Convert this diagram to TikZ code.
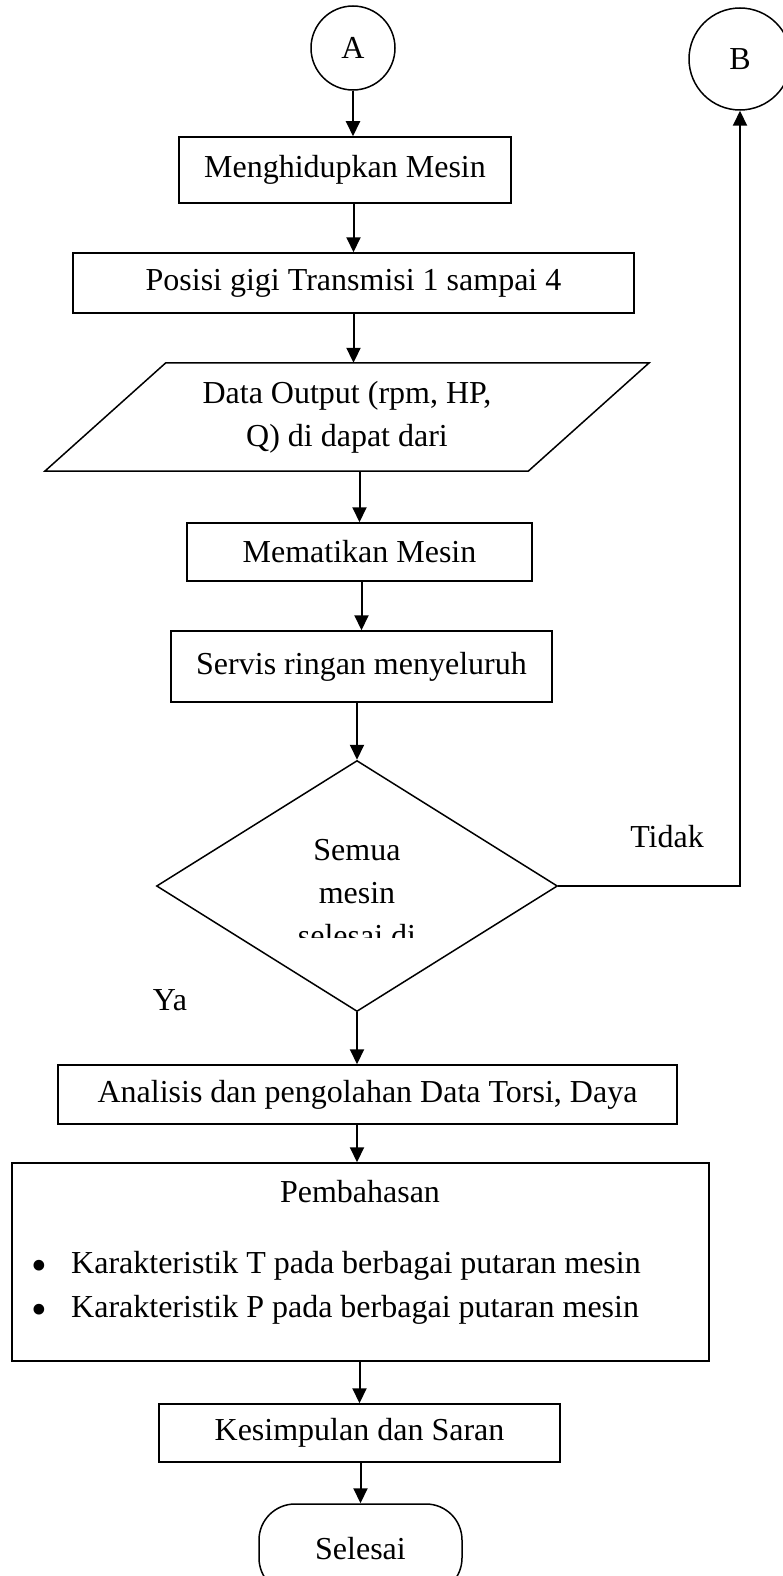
\documentclass[tikz,border=0pt]{standalone}
\usepackage{fontspec}
\setmainfont{Liberation Serif}
\usetikzlibrary{arrows.meta,shapes.geometric}

\begin{document}
\begin{tikzpicture}[x=1pt,y=-1pt,font=\fontsize{32}{43}\selectfont,
    proses/.style={draw,line width=1.5pt,inner sep=0pt},
    konektor/.style={circle,draw,line width=1.5pt,inner sep=0pt},
    keputusan/.style={diamond,draw,line width=1.5pt,inner sep=0pt},
    teks/.style={inner sep=0pt},
    arr/.style={-{Triangle[length=15pt,width=14pt]},line width=2pt}]
\useasboundingbox (0,0) rectangle (783,1576);
\clip (0,0) rectangle (783,1576);
    \node[konektor,minimum size=84pt] (a) at (353,48) {A};
    \node[konektor,minimum size=102pt] (b) at (740,59) {B};
    \node[proses,minimum width=332pt,minimum height=66pt] (hidup) at (345,170) {Menghidupkan Mesin};
    \node[proses,minimum width=561pt,minimum height=60pt] (posisi) at (353.5,283) {Posisi gigi Transmisi 1 sampai 4};
    \node[teks,align=center,minimum width=604pt,minimum height=108pt] (data) at (347,417) {Data Output (rpm, HP,\\Q) di dapat dari};
    \draw[line width=1.5pt] ([xshift=121pt]data.north west) -- (data.north east)
        -- ([xshift=-121pt]data.south east) -- (data.south west) -- cycle;
    \node[proses,minimum width=345pt,minimum height=58pt] (mati) at (359.5,552) {Mematikan Mesin};
    \node[proses,minimum width=381pt,minimum height=71pt] (servis) at (361.5,666.5) {Servis ringan menyeluruh};
    \node[keputusan,minimum width=401pt,minimum height=251pt] (cek) at (357,886) {};
    \begin{scope}
    \clip (150,800) rectangle (560,937);
    \node[teks,align=center] (cektxt) at (357,893) {Semua\\mesin\\selesai di};
    \end{scope}
    \node[teks,anchor=base] (tidak) at (667,847) {Tidak};
    \node[teks,anchor=base] (ya) at (170,1010) {Ya};
    \node[proses,minimum width=619pt,minimum height=59pt] (analisis) at (367.5,1094.5) {Analisis dan pengolahan Data Torsi, Daya};
    \node[proses,minimum width=697pt,minimum height=198pt] (bahas) at (360.5,1262) {};
    \node[teks,anchor=base] (judul) at (360,1202) {Pembahasan};
    \node[teks,anchor=base] (titik1) at (39,1273) {\raisebox{-7.5pt}{\scalebox{1.4}{\textbullet}}};
    \node[teks,anchor=base west] (poin1) at (71,1273) {Karakteristik T pada berbagai putaran mesin};
    \node[teks,anchor=base] (titik2) at (39,1317) {\raisebox{-7.5pt}{\scalebox{1.4}{\textbullet}}};
    \node[teks,anchor=base west] (poin2) at (71,1317) {Karakteristik P pada berbagai putaran mesin};
    \node[proses,minimum width=401pt,minimum height=58pt] (simpul) at (359.5,1433) {Kesimpulan dan Saran};
    \node[proses,rounded corners=36pt,minimum width=203pt,minimum height=90pt] (selesai) at (360.5,1549) {Selesai};
    \draw[arr] (a.south) -- (a.south |- hidup.north);
    \draw[arr] (hidup.south -| posisi.north) -- (posisi.north);
    \draw[arr] (posisi.south) -- (posisi.south |- data.north);
    \draw[arr] (data.south -| mati.north) -- (mati.north);
    \draw[arr] (mati.south -| servis.north) -- (servis.north);
    \draw[arr] (servis.south -| cek.north) -- (cek.north);
    \draw[arr] (cek.south) -- (cek.south |- analisis.north);
    \draw[arr] (analisis.south -| cek.south) -- (cek.south |- bahas.north);
    \draw[arr] (bahas.south -| simpul.north) -- (simpul.north);
    \draw[arr] (simpul.south -| selesai.north) -- (selesai.north);
    \draw[arr] (cek.east) -| (b.south);
\end{tikzpicture}
\end{document}
